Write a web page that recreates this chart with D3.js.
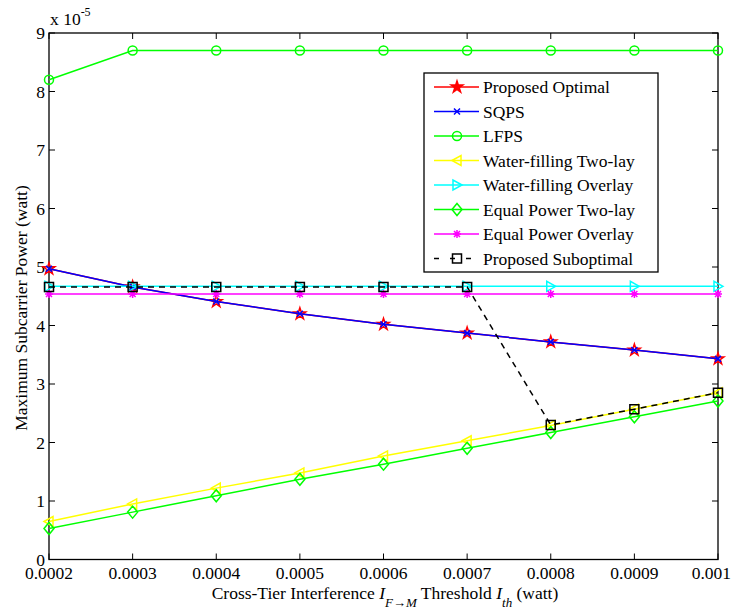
<!DOCTYPE html>
<meta charset="utf-8">
<style>
body { margin: 0; background: #fff; }
text { font-family: "Liberation Serif", "Times New Roman", serif; font-size: 17.5px; fill: #000; }
</style>
<svg width="735" height="611"></svg>
<script src="https://d3js.org/d3.v7.min.js"></script>
<script>

var thresholds = [0.0002, 0.0003, 0.0004, 0.0005, 0.0006, 0.0007, 0.0008, 0.0009, 0.001];
var xTickLabels = ["0.0002", "0.0003", "0.0004", "0.0005", "0.0006", "0.0007", "0.0008", "0.0009", "0.001"];
var yTicks = [0, 1, 2, 3, 4, 5, 6, 7, 8, 9];

// values in units of 1e-5 watt
var proposedOptimal = [4.97, 4.66, 4.41, 4.20, 4.02, 3.87, 3.72, 3.58, 3.43];
var sqps            = [4.97, 4.66, 4.41, 4.20, 4.02, 3.87, 3.72, 3.58, 3.43];
var lfps            = [8.20, 8.70, 8.70, 8.70, 8.70, 8.70, 8.70, 8.70, 8.70];
var wfTwoLay        = [0.65, 0.95, 1.22, 1.48, 1.77, 2.03, 2.29, 2.57, 2.85];
var wfOverlay       = [4.67, 4.67, 4.67, 4.67, 4.67, 4.67, 4.67, 4.67, 4.67];
var epTwoLay        = [0.53, 0.81, 1.09, 1.37, 1.63, 1.90, 2.17, 2.44, 2.71];
var epOverlay       = [4.54, 4.54, 4.54, 4.54, 4.54, 4.54, 4.54, 4.54, 4.54];
var proposedSubopt  = [4.66, 4.66, 4.66, 4.66, 4.66, 4.66, 2.30, 2.57, 2.85];

var series = [
  {name: "Proposed Optimal",     values: proposedOptimal, color: "#ff0000", marker: "star"},
  {name: "SQPS",                 values: sqps,            color: "#0000ff", marker: "x"},
  {name: "LFPS",                 values: lfps,            color: "#00ff00", marker: "circle"},
  {name: "Water-filling Two-lay", values: wfTwoLay,       color: "#ffff00", marker: "triLeft"},
  {name: "Water-filling Overlay", values: wfOverlay,      color: "#00ffff", marker: "triRight"},
  {name: "Equal Power Two-lay",  values: epTwoLay,        color: "#00ff00", marker: "diamond"},
  {name: "Equal Power Overlay",  values: epOverlay,       color: "#ff00ff", marker: "asterisk"},
  {name: "Proposed Suboptimal",  values: proposedSubopt,  color: "#000000", marker: "square", dash: "6,5"}
];

var svg = d3.select("svg");
var plotL = 49, plotR = 718, plotT = 33, plotB = 559.5;

var x = d3.scaleLinear().domain([0.0002, 0.001]).range([plotL, plotR]);
var y = d3.scaleLinear().domain([0, 9]).range([plotB, plotT]);

/*MARKERS*/
var starPath = d3.symbol().type(d3.symbolStar).size(42)();
function markerPath(type) {
  switch (type) {
    case "star": return starPath;
    case "x": return "M-3,-3L3,3M-3,3L3,-3";
    case "circle": return "M4.5,0A4.5,4.5 0 1,1 -4.5,0A4.5,4.5 0 1,1 4.5,0Z";
    case "triLeft": return "M-5,0L4,-5L4,5Z";
    case "triRight": return "M5,0L-4,-5L-4,5Z";
    case "diamond": return "M0,-6L5,0L0,6L-5,0Z";
    case "asterisk": return "M-4,0L4,0M0,-4L0,4M-3,-3L3,3M-3,3L3,-3";
    case "square": return "M-4.5,-4.5L4.5,-4.5L4.5,4.5L-4.5,4.5Z";
  }
}

/*AXES - box with inward ticks*/
var g = svg.append("g");
g.append("rect").attr("x", plotL).attr("y", plotT)
  .attr("width", plotR - plotL).attr("height", plotB - plotT)
  .attr("fill", "none").attr("stroke", "#000").attr("stroke-width", 1.3);

var tickLen = 6;
g.selectAll(".xt").data(thresholds).enter().append("path")
  .attr("d", function(d) { var px = x(d); return "M" + px + "," + plotB + "V" + (plotB - tickLen) + "M" + px + "," + plotT + "V" + (plotT + tickLen); })
  .attr("stroke", "#000");
g.selectAll(".yt").data(yTicks).enter().append("path")
  .attr("d", function(d) { var py = y(d); return "M" + plotL + "," + py + "H" + (plotL + tickLen) + "M" + plotR + "," + py + "H" + (plotR - tickLen); })
  .attr("stroke", "#000");

// last label is pulled in so it stays inside the figure, as in the original
g.selectAll(".xl").data(thresholds).enter().append("text")
  .attr("x", function(d, i) { return i === thresholds.length - 1 ? 731 : x(d); })
  .attr("y", 579)
  .attr("text-anchor", function(d, i) { return i === thresholds.length - 1 ? "end" : "middle"; })
  .text(function(d, i) { return xTickLabels[i]; });

g.selectAll(".yl").data(yTicks).enter().append("text")
  .attr("x", plotL - 4)
  .attr("y", function(d) { return y(d) + 6; })
  .attr("text-anchor", "end")
  .text(function(d) { return d; });

var expo = g.append("text").attr("x", 50).attr("y", 25);
expo.append("tspan").text("x 10");
expo.append("tspan").attr("dy", -9).attr("font-size", "12px").text("-5");

g.append("text")
  .attr("transform", "translate(27,308) rotate(-90)")
  .attr("text-anchor", "middle")
  .attr("font-size", "20px")
  .text("Maximum Subcarrier Power (watt)");

var xl = g.append("text").attr("x", 385).attr("y", 599).attr("text-anchor", "middle").attr("font-size", "18px");
xl.append("tspan").text("Cross-Tier Interference  ");
xl.append("tspan").attr("font-style", "italic").text("I");
xl.append("tspan").attr("font-style", "italic").attr("font-size", "13px").attr("dy", 8).text("F\u2192M");
xl.append("tspan").attr("dy", -8).text(" Threshold ");
xl.append("tspan").attr("font-style", "italic").text("I");
xl.append("tspan").attr("font-style", "italic").attr("font-size", "13px").attr("dy", 8).text("th");
xl.append("tspan").attr("dy", -8).text(" (watt)");

/*LINES*/
var line = d3.line()
  .x(function(d, i) { return x(thresholds[i]); })
  .y(function(d) { return y(d); });

var plot = svg.append("g");
series.forEach(function(s) {
  var sg = plot.append("g");
  sg.append("path")
    .attr("d", line(s.values))
    .attr("fill", "none")
    .attr("stroke", s.color)
    .attr("stroke-width", 1.5)
    .attr("stroke-dasharray", s.dash || null);
  sg.selectAll("path.m").data(s.values).enter().append("path")
    .attr("class", "m")
    .attr("transform", function(d, i) { return "translate(" + x(thresholds[i]) + "," + y(d) + ")"; })
    .attr("d", markerPath(s.marker))
    .attr("fill", "none")
    .attr("stroke", s.color)
    .attr("stroke-width", 1.5);
});

/*LEGEND*/
var lg = svg.append("g");
lg.append("rect").attr("x", 424).attr("y", 73).attr("width", 234).attr("height", 199)
  .attr("fill", "#fff").attr("stroke", "#000").attr("stroke-width", 1.3);

var item = lg.selectAll(".item").data(series).enter().append("g")
  .attr("transform", function(d, i) { return "translate(0," + (87 + i * 24.5) + ")"; });
item.append("path")
  .attr("d", "M434,0H479")
  .attr("stroke", function(d) { return d.color; })
  .attr("stroke-width", 1.5)
  .attr("stroke-dasharray", function(d) { return d.dash ? "5,11" : null; });
item.append("path")
  .attr("transform", "translate(457,0)")
  .attr("d", function(d) { return markerPath(d.marker); })
  .attr("fill", function(d) { return d.marker === "star" ? d.color : "none"; })
  .attr("stroke", function(d) { return d.color; })
  .attr("stroke-width", 1.5);
item.append("text")
  .attr("x", 483).attr("y", 6)
  .text(function(d) { return d.name; });

</script>
